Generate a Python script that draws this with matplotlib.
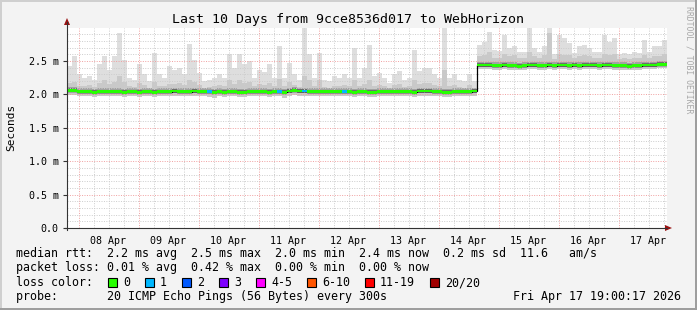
import datetime as dt
import numpy as np
import matplotlib
matplotlib.use("Agg")
import matplotlib.pyplot as plt
import matplotlib.dates as mdates
from matplotlib.ticker import MultipleLocator, FuncFormatter, NullFormatter
from matplotlib.patches import Polygon, Rectangle
from matplotlib.lines import Line2D

# ---------------- data (2-hour bins, ms) ----------------
start_time = dt.datetime(2026, 4, 7, 19, 24)
bin_hours = 2

rtt_median = [2.06, 2.06, 2.04, 2.04, 2.04, 2.03, 2.04, 2.04, 2.04, 2.04,
              2.04, 2.03, 2.04, 2.04, 2.03, 2.04, 2.04, 2.03, 2.04, 2.04,
              2.04, 2.05, 2.04, 2.04, 2.04, 2.05, 2.04, 2.04, 2.04, 2.03,
              2.04, 2.03, 2.04, 2.04, 2.03, 2.03, 2.04, 2.04, 2.04, 2.04,
              2.03, 2.04, 2.04, 2.03, 2.05, 2.06, 2.05, 2.05, 2.04, 2.04,
              2.04, 2.04, 2.04, 2.04, 2.04, 2.04, 2.04, 2.03, 2.04, 2.04,
              2.03, 2.03, 2.04, 2.04, 2.04, 2.04, 2.04, 2.04, 2.04, 2.03,
              2.05, 2.05, 2.05, 2.04, 2.04, 2.03, 2.03, 2.04, 2.04, 2.04,
              2.04, 2.05, 2.44, 2.44, 2.44, 2.43, 2.43, 2.44, 2.43, 2.43,
              2.42, 2.43, 2.44, 2.44, 2.43, 2.43, 2.44, 2.43, 2.44, 2.44,
              2.43, 2.44, 2.43, 2.44, 2.44, 2.44, 2.43, 2.44, 2.44, 2.43,
              2.43, 2.43, 2.42, 2.43, 2.43, 2.44, 2.44, 2.44, 2.45, 2.45]

rtt_max = [2.42, 2.57, 2.30, 2.25, 2.27, 2.22, 2.45, 2.57, 2.37, 2.57,
           2.92, 2.52, 2.25, 2.22, 2.45, 2.30, 2.20, 2.62, 2.30, 2.25,
           2.42, 2.37, 2.40, 2.30, 2.75, 2.52, 2.32, 2.20, 2.22, 2.25,
           2.30, 2.25, 2.60, 2.40, 2.60, 2.45, 2.50, 2.25, 2.36, 2.34,
           2.45, 2.25, 2.72, 2.25, 2.47, 2.30, 2.22, 2.99, 2.60, 2.25,
           2.62, 2.22, 2.20, 2.27, 2.25, 2.30, 2.25, 2.70, 2.25, 2.40,
           2.74, 2.27, 2.32, 2.25, 2.17, 2.30, 2.35, 2.22, 2.25, 2.67,
           2.35, 2.40, 2.40, 2.30, 2.25, 2.99, 2.25, 2.30, 2.22, 2.20,
           2.30, 2.20, 2.74, 2.79, 2.94, 2.67, 2.65, 2.89, 2.69, 2.72,
           2.63, 2.64, 2.99, 2.69, 2.64, 2.72, 2.99, 2.60, 2.89, 2.84,
           2.77, 2.62, 2.72, 2.74, 2.69, 2.64, 2.64, 2.89, 2.79, 2.84,
           2.60, 2.62, 2.60, 2.64, 2.62, 2.82, 2.64, 2.72, 2.72, 2.82]

rtt_q3 = [2.17, 2.19, 2.13, 2.12, 2.14, 2.11, 2.17, 2.21, 2.15, 2.19,
          2.27, 2.19, 2.12, 2.11, 2.17, 2.14, 2.10, 2.19, 2.13, 2.12,
          2.16, 2.15, 2.17, 2.14, 2.22, 2.19, 2.14, 2.10, 2.11, 2.12,
          2.14, 2.12, 2.21, 2.16, 2.21, 2.17, 2.19, 2.12, 2.15, 2.14,
          2.17, 2.12, 2.23, 2.12, 2.18, 2.14, 2.11, 2.27, 2.21, 2.12,
          2.21, 2.11, 2.10, 2.13, 2.12, 2.14, 2.12, 2.22, 2.12, 2.16,
          2.22, 2.13, 2.14, 2.12, 2.10, 2.14, 2.15, 2.11, 2.12, 2.21,
          2.15, 2.17, 2.17, 2.14, 2.12, 2.37, 2.12, 2.14, 2.11, 2.10,
          2.14, 2.10, 2.57, 2.59, 2.63, 2.55, 2.55, 2.61, 2.57, 2.59,
          2.55, 2.55, 2.63, 2.57, 2.55, 2.59, 2.92, 2.53, 2.61, 2.59,
          2.59, 2.54, 2.57, 2.59, 2.57, 2.55, 2.55, 2.61, 2.59, 2.60,
          2.53, 2.54, 2.53, 2.55, 2.54, 2.59, 2.55, 2.57, 2.57, 2.60]

rtt_min = [1.99, 1.99, 1.97, 1.98, 1.97, 1.96, 1.97, 1.97, 1.98, 1.97,
           1.97, 1.96, 1.97, 1.98, 1.96, 1.97, 1.97, 1.96, 1.97, 1.97,
           1.97, 1.98, 1.97, 1.97, 1.97, 1.98, 1.97, 1.97, 1.96, 1.95,
           1.97, 1.96, 1.97, 1.97, 1.96, 1.96, 1.97, 1.97, 1.97, 1.97,
           1.96, 1.97, 1.97, 1.95, 1.98, 1.99, 1.98, 1.97, 1.97, 1.97,
           1.97, 1.97, 1.97, 1.97, 1.97, 1.97, 1.97, 1.96, 1.97, 1.97,
           1.96, 1.96, 1.97, 1.97, 1.97, 1.97, 1.97, 1.97, 1.97, 1.96,
           1.98, 1.98, 1.98, 1.97, 1.97, 1.96, 1.96, 1.97, 1.97, 1.97,
           1.97, 1.98, 2.38, 2.38, 2.38, 2.37, 2.37, 2.38, 2.37, 2.37,
           2.36, 2.37, 2.38, 2.38, 2.37, 2.37, 2.38, 2.37, 2.38, 2.38,
           2.37, 2.38, 2.37, 2.38, 2.38, 2.38, 2.37, 2.38, 2.38, 2.37,
           2.37, 2.37, 2.36, 2.37, 2.37, 2.38, 2.38, 2.38, 2.39, 2.39]

loss_count = [0] * 120
for b in (28, 42, 47, 55):
    loss_count[b] = 1

loss_labels = ["0", "1", "2", "3", "4-5", "6-10", "11-19", "20/20"]
loss_colors = ["#26ff00", "#00b8ff", "#0059ff", "#7e00ff",
               "#ff00ff", "#ff5500", "#ff0000", "#a10000"]

title = "Last 10 Days from 9cce8536d017 to WebHorizon"
legend_rtt = "median rtt:  2.2 ms avg  2.5 ms max  2.0 ms min  2.4 ms now  0.2 ms sd  11.6   am/s"
legend_loss = "packet loss: 0.01 % avg  0.42 % max  0.00 % min  0.00 % now"
legend_probe = "probe:       20 ICMP Echo Pings (56 Bytes) every 300s"
stamp = "Fri Apr 17 19:00:17 2026"

# ---------------- figure ----------------
W, H = 697, 310
MONO = "DejaVu Sans Mono"
fig = plt.figure(figsize=(W / 100, H / 100), dpi=100, facecolor="#f3f3f3")

def fx(px):
    return px / W

def fy(py):
    return 1 - py / H

# border shading
fig.add_artist(Rectangle((0, fy(2)), 1, 2 / H, transform=fig.transFigure, color="#cfcfcf", lw=0))
fig.add_artist(Rectangle((0, 0), 2 / W, 1, transform=fig.transFigure, color="#cfcfcf", lw=0))
fig.add_artist(Rectangle((0, 0), 1, 2 / H, transform=fig.transFigure, color="#9e9e9e", lw=0))
fig.add_artist(Rectangle((fx(W - 2), 0), 2 / W, 1, transform=fig.transFigure, color="#9e9e9e", lw=0))

L, R, T, B = 67, 667, 28, 228
ax = fig.add_axes([fx(L), fy(B), (R - L) / W, (B - T) / H])
ax.set_facecolor("white")
for s in ax.spines.values():
    s.set_visible(False)

n = len(rtt_median)
edges = mdates.date2num([start_time + dt.timedelta(hours=bin_hours * i) for i in range(n + 1)])
med = np.array(rtt_median)

# smoke
ax.stairs(rtt_max, edges, baseline=rtt_min, fill=True, color="#dedede", zorder=1)
ax.stairs(rtt_q3, edges, baseline=rtt_min, fill=True, color="#c9c9c9", zorder=1.1)
ax.stairs(med + 0.05, edges, baseline=med - 0.035, fill=True, color="#a2a2a2", zorder=1.2)
ax.stairs(med + 0.03, edges, baseline=med - 0.025, fill=True, color="#6e6e6e", zorder=1.3)

# median step line (black) and loss-coloured band
ax.stairs(med, edges, baseline=None, color="black", lw=0.9, zorder=3)
for i in range(n):
    c = loss_colors[loss_count[i]]
    ax.stairs([med[i] + 0.02], edges[i:i + 2], baseline=med[i] - 0.018,
              fill=True, color=c, lw=0, zorder=4)

ax.set_xlim(edges[0], edges[-1])
ax.set_ylim(0, 2.995)

# y axis grid / labels
ax.yaxis.set_major_locator(MultipleLocator(0.5))
ax.yaxis.set_minor_locator(MultipleLocator(0.1))
ax.yaxis.set_major_formatter(FuncFormatter(lambda v, p: "0.0" if abs(v) < 1e-9 else f"{v:.1f} m"))
dots = (0, (1, 1.5))
ax.grid(which="major", axis="y", color="#f0a0a0", lw=0.7, ls=dots, zorder=2)
ax.grid(which="minor", axis="y", color="#cccccc", lw=0.7, ls=dots, zorder=2)

# x axis grid / labels
ax.xaxis.set_major_locator(mdates.DayLocator())
ax.xaxis.set_major_formatter(NullFormatter())
ax.xaxis.set_minor_locator(mdates.HourLocator(byhour=[6, 12, 18]))

def xlab(v, p):
    d = mdates.num2date(v)
    return d.strftime("%d %b") if d.hour == 12 else ""

ax.xaxis.set_minor_formatter(FuncFormatter(xlab))
ax.grid(which="major", axis="x", color="#f0a0a0", lw=0.7, ls=dots, zorder=2)
ax.grid(which="minor", axis="x", color="#cccccc", lw=0.7, ls=dots, zorder=2)

ax.tick_params(axis="x", which="both", length=0, pad=6, labelsize=7.2)
ax.tick_params(axis="y", which="major", length=3, width=0.8, color="#333333", pad=3, labelsize=7.2)
ax.tick_params(axis="y", which="minor", length=0)
for lab in ax.get_xticklabels(minor=True) + ax.get_yticklabels():
    lab.set_fontfamily(MONO)

# axes lines and arrows
axis_col = "#333333"
arrow_col = "#991111"
fig.add_artist(Line2D([fx(L), fx(L)], [fy(B + 2), fy(22)], transform=fig.transFigure, color=axis_col, lw=0.8))
fig.add_artist(Line2D([fx(L - 2), fx(667)], [fy(B), fy(B)], transform=fig.transFigure, color=axis_col, lw=0.8))
fig.add_artist(Polygon([[fx(L - 3), fy(25)], [fx(L + 3), fy(25)], [fx(L), fy(18)]],
                       closed=True, transform=fig.transFigure, color=arrow_col, lw=0))
fig.add_artist(Polygon([[fx(665), fy(B - 3)], [fx(665), fy(B + 3)], [fx(672), fy(B)]],
                       closed=True, transform=fig.transFigure, color=arrow_col, lw=0))

# texts
fig.text(fx(348), fy(19), title, family=MONO, fontsize=9.5, ha="center", va="center")
fig.text(fx(11), fy(127), "Seconds", family=MONO, fontsize=8, rotation=90, ha="center", va="center")
fig.text(fx(689), fy(60), "RRDTOOL / TOBI OETIKER", family=MONO, fontsize=5.9, rotation=-90,
         ha="center", va="center", color="#a8a8a8")

fs = 8.37
cw = 7.0
fig.text(fx(16), fy(254), legend_rtt, family=MONO, fontsize=fs, ha="left", va="center")
fig.text(fx(16), fy(268), legend_loss, family=MONO, fontsize=fs, ha="left", va="center")
fig.text(fx(16), fy(282.5), "loss color:", family=MONO, fontsize=fs, ha="left", va="center")
fig.text(fx(16), fy(296.5), legend_probe, family=MONO, fontsize=fs, ha="left", va="center")
fig.text(fx(681), fy(296.5), stamp, family=MONO, fontsize=fs, ha="right", va="center")

x0 = 108
for lab, col in zip(loss_labels, loss_colors):
    fig.add_artist(Rectangle((fx(x0), fy(287)), 9 / W, 9 / H, transform=fig.transFigure,
                             facecolor=col, edgecolor="black", lw=0.8))
    fig.text(fx(x0 + 15), fy(282.5), lab, family=MONO, fontsize=fs, ha="left", va="center")
    x0 += 30 + cw * len(lab)

fig.savefig("out.png", dpi=100, facecolor=fig.get_facecolor())
